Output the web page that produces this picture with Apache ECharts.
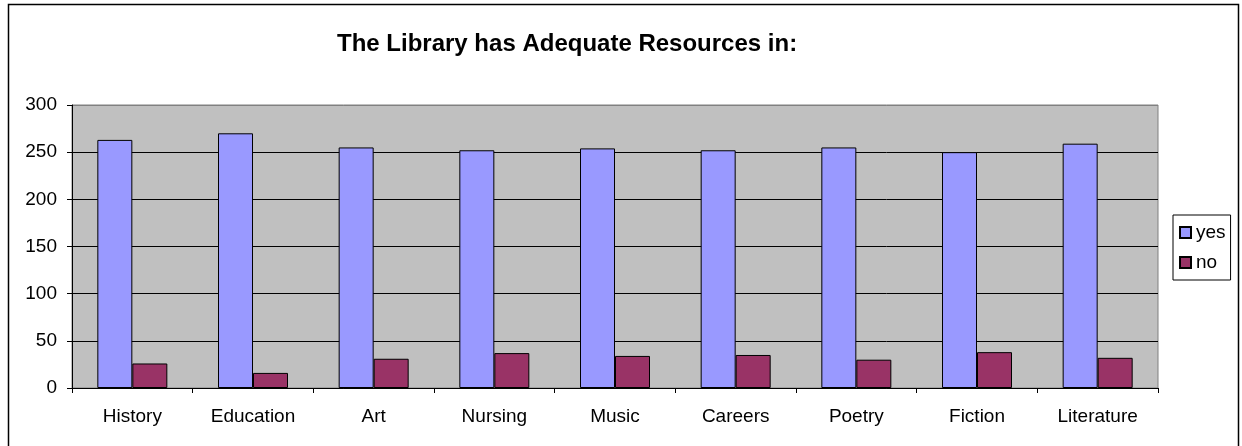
<!DOCTYPE html>
<html>
<head>
<meta charset="utf-8">
<script src="https://cdn.jsdelivr.net/npm/echarts@6/dist/echarts.min.js"></script>
<style>
  html, body { margin: 0; padding: 0; background: #fff; }
  #chart { width: 1242px; height: 446px; }
</style>
</head>
<body>
<div id="chart"></div>
<script>
const categories = ['History', 'Education', 'Art', 'Nursing', 'Music', 'Careers', 'Poetry', 'Fiction', 'Literature']
const yesValues = [263, 270, 255, 252, 254, 252, 255, 250, 259]
const noValues = [26, 16, 31, 37, 34, 35, 30, 38, 32]
const yTicks = [0, 50, 100, 150, 200, 250, 300]

const font = 'Arial, "Liberation Sans", sans-serif'

const chart = echarts.init(document.getElementById('chart'))

const option = {
  backgroundColor: '#fff',
  animation: false,
  title: {
    text: 'The Library has Adequate Resources in:',
    left: 332,
    top: 27,
    textStyle: {
      fontFamily: font,
      fontWeight: 'bold',
      fontSize: 24,
      color: '#000'
    }
  },
  legend: {
    orient: 'vertical',
    left: 1173,
    top: 215,
    padding: [8, 5, 8, 6],
    borderColor: '#000',
    borderWidth: 1,
    itemWidth: 11,
    itemHeight: 11,
    itemGap: 11,
    icon: 'rect',
    data: ['yes', 'no'],
    textStyle: { fontFamily: font, fontSize: 19, color: '#000' }
  },
  grid: {
    left: 72,
    right: 84,
    top: 105,
    bottom: 58,
    show: true,
    backgroundColor: '#C0C0C0',
    borderColor: '#808080',
    borderWidth: 1
  },
  xAxis: {
    type: 'category',
    data: categories,
    axisLine: { lineStyle: { color: '#000', width: 1 } },
    axisTick: { show: true, length: 5, lineStyle: { color: '#000' } },
    axisLabel: { fontFamily: font, fontSize: 19, color: '#000', margin: 19 }
  },
  yAxis: {
    type: 'value',
    min: yTicks[0],
    max: yTicks[yTicks.length - 1],
    interval: 50,
    axisLine: { show: true, lineStyle: { color: '#000', width: 1 } },
    axisTick: { show: true, length: 5, lineStyle: { color: '#000' } },
    axisLabel: { fontFamily: font, fontSize: 19, color: '#000', margin: 15 },
    splitLine: {
      lineStyle: {
        color: ['#000', '#000', '#000', '#000', '#000', '#000', '#808080'],
        width: 1
      }
    }
  },
  series: [
    {
      name: 'yes',
      type: 'bar',
      barWidth: 35,
      barGap: '0%',
      data: yesValues,
      itemStyle: { color: '#9999FF', borderColor: '#000', borderWidth: 1 }
    },
    {
      name: 'no',
      type: 'bar',
      barWidth: 35,
      data: noValues,
      itemStyle: { color: '#993366', borderColor: '#000', borderWidth: 1 }
    }
  ],
  graphic: [
    {
      type: 'rect',
      shape: { x: 8.5, y: 4.5, width: 1230, height: 500 },
      style: { fill: 'none', stroke: '#000', lineWidth: 1.5 },
      silent: true
    }
  ]
}

chart.setOption(option)
</script>
</body>
</html>
